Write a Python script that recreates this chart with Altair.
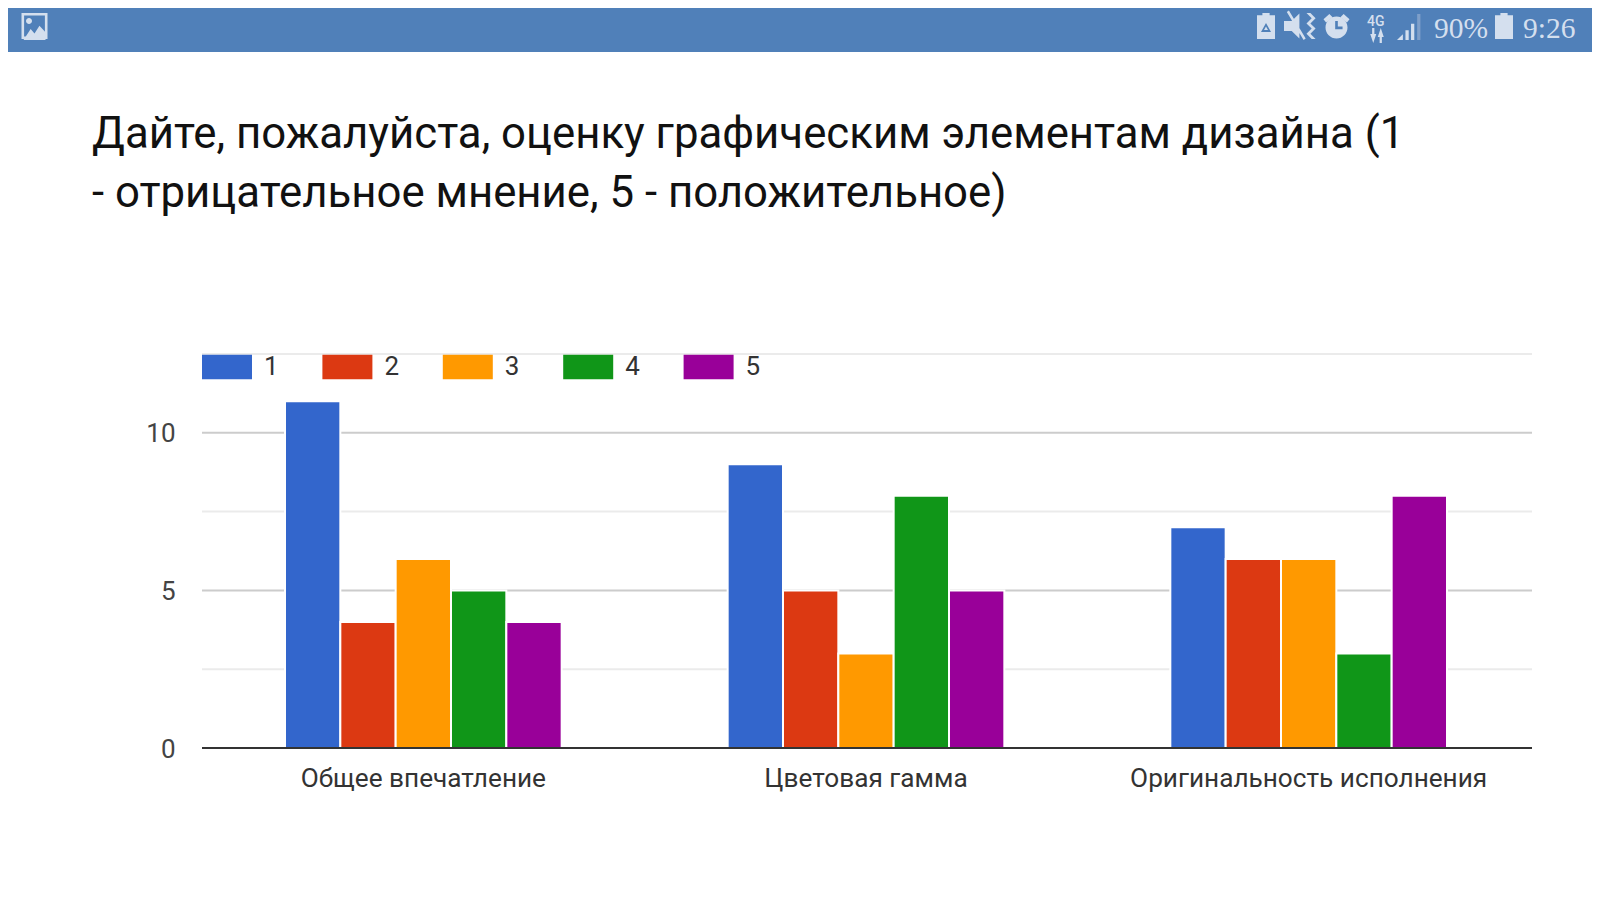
import altair as alt
import pandas as pd

categories = ["Общее впечатление", "Цветовая гамма", "Оригинальность исполнения"]
series = ["1", "2", "3", "4", "5"]
values_by_series = {
    "1": [11, 9, 7],
    "2": [4, 5, 6],
    "3": [6, 3, 6],
    "4": [5, 8, 3],
    "5": [4, 5, 8],
}
colors = ["#3366cc", "#dc3912", "#ff9900", "#109618", "#990099"]
y_ticks = [0, 5, 10]
major_grid = [5, 10]
minor_grid = [2.5, 7.5, 12.5]
title_lines = [
    "Дайте, пожалуйста, оценку графическим элементам дизайна (1",
    "- отрицательное мнение, 5 - положительное)",
]

PLOT_L, PLOT_T, PLOT_W, PLOT_H = 202, 354, 1330, 394
PAD_L, PAD_T = PLOT_L - 8, PLOT_T - 8
BAR = "#5080b9"
ICON = "#d4dfee"


def px(v):
    return v - PLOT_L


def py(v):
    return v - PLOT_T


one = pd.DataFrame({"a": [0]})
rows = [
    {"cat": c, "s": s, "v": values_by_series[s][i]}
    for i, c in enumerate(categories)
    for s in series
]
df = pd.DataFrame(rows)

y_scale = alt.Scale(domain=[0, 12.5], nice=False, zero=True)
y_axis = alt.Axis(
    values=y_ticks, grid=False, domain=False, ticks=False, labelFont="Roboto",
    labelFontSize=26, labelColor="#444444", labelPadding=27, format="d", labelOffset=1,
)

minor = alt.Chart(pd.DataFrame({"g": minor_grid})).mark_rule(color="#ebebeb", strokeWidth=2).encode(
    y=alt.Y("g:Q", scale=y_scale, title=None, axis=y_axis)
)
major = alt.Chart(pd.DataFrame({"g": major_grid})).mark_rule(color="#cccccc", strokeWidth=2).encode(
    y=alt.Y("g:Q", scale=y_scale, title=None, axis=y_axis)
)

bars = alt.Chart(df).mark_bar(stroke="white", strokeWidth=2).encode(
    x=alt.X(
        "cat:N",
        sort=categories,
        title=None,
        scale=alt.Scale(paddingInner=0.375, paddingOuter=0.1875, range=[0, 1328]),
        axis=alt.Axis(
            labelAngle=0, labelFont="Roboto", labelFontSize=26.2, labelColor="#333333",
            labelPadding=17, ticks=False, domain=False,
            labelLimit=440, grid=False,
        ),
    ),
    xOffset=alt.XOffset("s:N", sort=series, scale=alt.Scale(paddingInner=0, paddingOuter=0)),
    y=alt.Y("v:Q", scale=y_scale, title=None, axis=y_axis),
    color=alt.Color(
        "s:N",
        sort=series,
        scale=alt.Scale(domain=series, range=colors),
        legend=alt.Legend(
            title=None, orient="none", legendX=0, legendY=-12, direction="horizontal",
            symbolType="M-1,-0.49H1V0.49H-1Z", symbolSize=2500, symbolStrokeWidth=0,
            labelFont="Roboto", labelFontSize=26, labelColor="#333333", labelOffset=12,
            columnPadding=43.4, padding=0, symbolOpacity=1,
        ),
    ),
)

baseline = alt.Chart(pd.DataFrame({"g": [0]})).mark_rule(color="#333333", strokeWidth=2).encode(
    y=alt.Y("g:Q", scale=y_scale, title=None, axis=y_axis)
)

layers = [minor, major, bars, baseline]

# header bar
layers.append(
    alt.Chart(one).mark_rect(color=BAR).encode(
        x=alt.value(px(8)), x2=alt.value(px(1592)), y=alt.value(py(8)), y2=alt.value(py(52))
    )
)


def text(s, x, y, size, color, font="Roboto", align="left", weight=400):
    return alt.Chart(one).mark_text(
        text=s, align=align, baseline="alphabetic", fontSize=size, font=font,
        color=color, fontWeight=weight,
    ).encode(x=alt.value(px(x)), y=alt.value(py(y)))


def icon(path, cx, cy, w, color=ICON):
    return alt.Chart(one).mark_point(
        shape=path, size=w * w, filled=True, color=color, opacity=1, strokeWidth=0
    ).encode(x=alt.value(px(cx)), y=alt.value(py(cy)))


layers.append(text(title_lines[0], 92, 148, 43.75, "#111111"))
layers.append(text(title_lines[1], 92, 207, 43.75, "#111111"))

# status icons
layers += [
    # picture
    icon("M-1,-1H1V1H-1ZM-0.8,-0.8V0.8H0.8V-0.8Z", 34.5, 26, 26),
    icon("M-1,1L-0.35,0L0,0.4L0.45,-0.3L1,0.3V1Z", 34.5, 29, 22),
    icon("M-1,0A1,1 0 1 1 1,0A1,1 0 1 1 -1,0Z", 29, 21, 6),
    # recycle battery
    icon("M-1,-1.2H-0.4V-1.44H0.4V-1.2H1V1.44H-1Z", 1266, 26, 18),
    icon("M0,-1L1,0.8H-1Z M0,-0.3L-0.4,0.4H0.4Z", 1266, 28, 10, BAR),
    # mute
    icon("M-1,-0.35H-0.45L0.1,-0.9V0.9L-0.45,0.35H-1ZM-0.8,-1L-0.65,-1.1L0.55,0.9L0.4,1Z", 1298, 26, 28),
    icon("M-0.2,-1L0.2,-0.6L-0.2,-0.2L0.2,0.2L-0.2,0.6L0.2,1H-0.1L-0.5,0.6L-0.1,0.2L-0.5,-0.2L-0.1,-0.6L-0.5,-1Z", 1313, 26, 26),
    # alarm
    icon("M-1,0A1,1 0 1 1 1,0A1,1 0 1 1 -1,0Z M-0.12,-0.6V0.15H0.55V-0.08H0.12V-0.6Z", 1336.5, 27.5, 22),
    icon("M-1,-0.6L-0.55,-1L-0.3,-0.75L-0.8,-0.35ZM1,-0.6L0.55,-1L0.3,-0.75L0.8,-0.35Z", 1336.5, 27, 26),
    # network arrows
    icon("M-0.9,-0.2H-0.65V-1H-0.35V-0.2H-0.1L-0.5,1ZM0.1,0.2H0.35V1H0.65V0.2H0.9L0.5,-1Z", 1377, 35.5, 15),
    # signal
    icon("M-1,1L-0.55,0.55V1Z", 1410, 27, 26),
    icon("M-0.35,0.25H-0.1V1H-0.35Z M0.08,-0.25H0.33V1H0.08Z", 1410, 27, 26),
    icon("M0.55,-1H0.8V1H0.55Z", 1410, 27, 26, "#7f9fc9"),
    # battery
    icon("M-1,-1.2H-0.4V-1.44H0.4V-1.2H1V1.44H-1Z", 1504, 26, 18),
    text("4G", 1367, 26, 14, ICON, weight=500),
    text("90%", 1434, 38, 29.5, ICON, font="Liberation Sans Narrow"),
    text("9:26", 1523, 38, 29.5, ICON, font="Liberation Sans Narrow"),
]

chart = alt.layer(*layers).resolve_scale(color="independent").properties(
    width=PLOT_W,
    height=PLOT_H,
    padding={"left": PAD_L, "top": PAD_T, "right": 1584 - PAD_L - PLOT_W, "bottom": 880 - PAD_T - PLOT_H},
    autosize=alt.AutoSizeParams(type="none"),
    background="white",
).configure_view(stroke=None)

chart.save("out.html", embed_options={"renderer": "svg", "actions": False})
